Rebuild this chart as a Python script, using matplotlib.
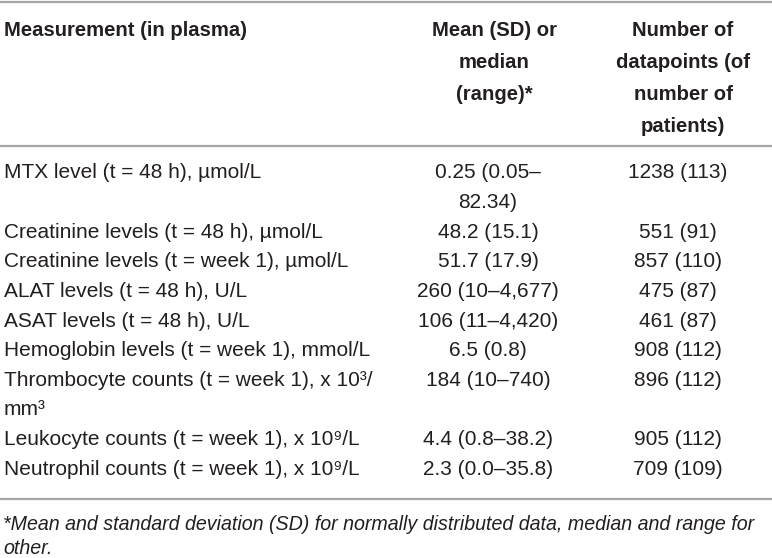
import matplotlib.pyplot as plt

headers = ["Measurement (in plasma)",
           "Mean (SD) or\nmedian\n(range)*",
           "Number of\ndatapoints (of\nnumber of\npatients)"]

measurements = [
    "MTX level (t = 48 h), µmol/L",
    "Creatinine levels (t = 48 h), µmol/L",
    "Creatinine levels (t = week 1), µmol/L",
    "ALAT levels (t = 48 h), U/L",
    "ASAT levels (t = 48 h), U/L",
    "Hemoglobin levels (t = week 1), mmol/L",
    "Thrombocyte counts (t = week 1), x 10³/\nmm³",
    "Leukocyte counts (t = week 1), x 10⁹/L",
    "Neutrophil counts (t = week 1), x 10⁹/L",
]
values = [
    "0.25 (0.05–\n82.34)",
    "48.2 (15.1)",
    "51.7 (17.9)",
    "260 (10–4,677)",
    "106 (11–4,420)",
    "6.5 (0.8)",
    "184 (10–740)",
    "4.4 (0.8–38.2)",
    "2.3 (0.0–35.8)",
]
counts = ["1238 (113)", "551 (91)", "857 (110)", "475 (87)", "461 (87)",
          "908 (112)", "896 (112)", "905 (112)", "709 (109)"]

footnote = ("*Mean and standard deviation (SD) for normally distributed data, median and range for\n"
            "other.")

W, H = 772, 558
FONT = ['Liberation Sans', 'DejaVu Sans']
INK = '#231f20'
RULE = '#a6a6a6'
FS = 15

fig = plt.figure(figsize=(W / 100, H / 100), dpi=100)
ax = fig.add_axes([0, 0, 1, 1])
ax.set_xlim(0, W)
ax.set_ylim(H, 0)
ax.axis('off')


def put(x, y, s, ha='left', size=FS, **kw):
    ax.text(x, y, s, ha=ha, va='center', fontsize=size, color=INK, family=FONT, **kw)


# header
col_x = [4, 494, 683]
col_ha = ['left', 'center', 'center']
for h, x, ha in zip(headers, col_x, col_ha):
    for k, line in enumerate(h.split("\n")):
        put(x, 30 + 32 * k, line, ha=ha, size=14.6, fontweight='bold')

ax.hlines([2, 146, 499], 0, W, color=RULE, lw=1.6)

# body
step = 29.6
y = 173
for m, v, c in zip(measurements, values, counts):
    ml, vl, cl = m.split("\n"), v.split("\n"), c.split("\n")
    for k, line in enumerate(ml):
        put(4, y + step * k, line)
    for k, line in enumerate(vl):
        put(488, y + step * k, line, ha='center')
    for k, line in enumerate(cl):
        put(678, y + step * k, line, ha='center')
    y += step * max(len(ml), len(vl), len(cl))

for k, line in enumerate(footnote.split("\n")):
    put(3, 524 + 24 * k, line, size=14.1, style='italic')

fig.savefig("out.png", dpi=100)
